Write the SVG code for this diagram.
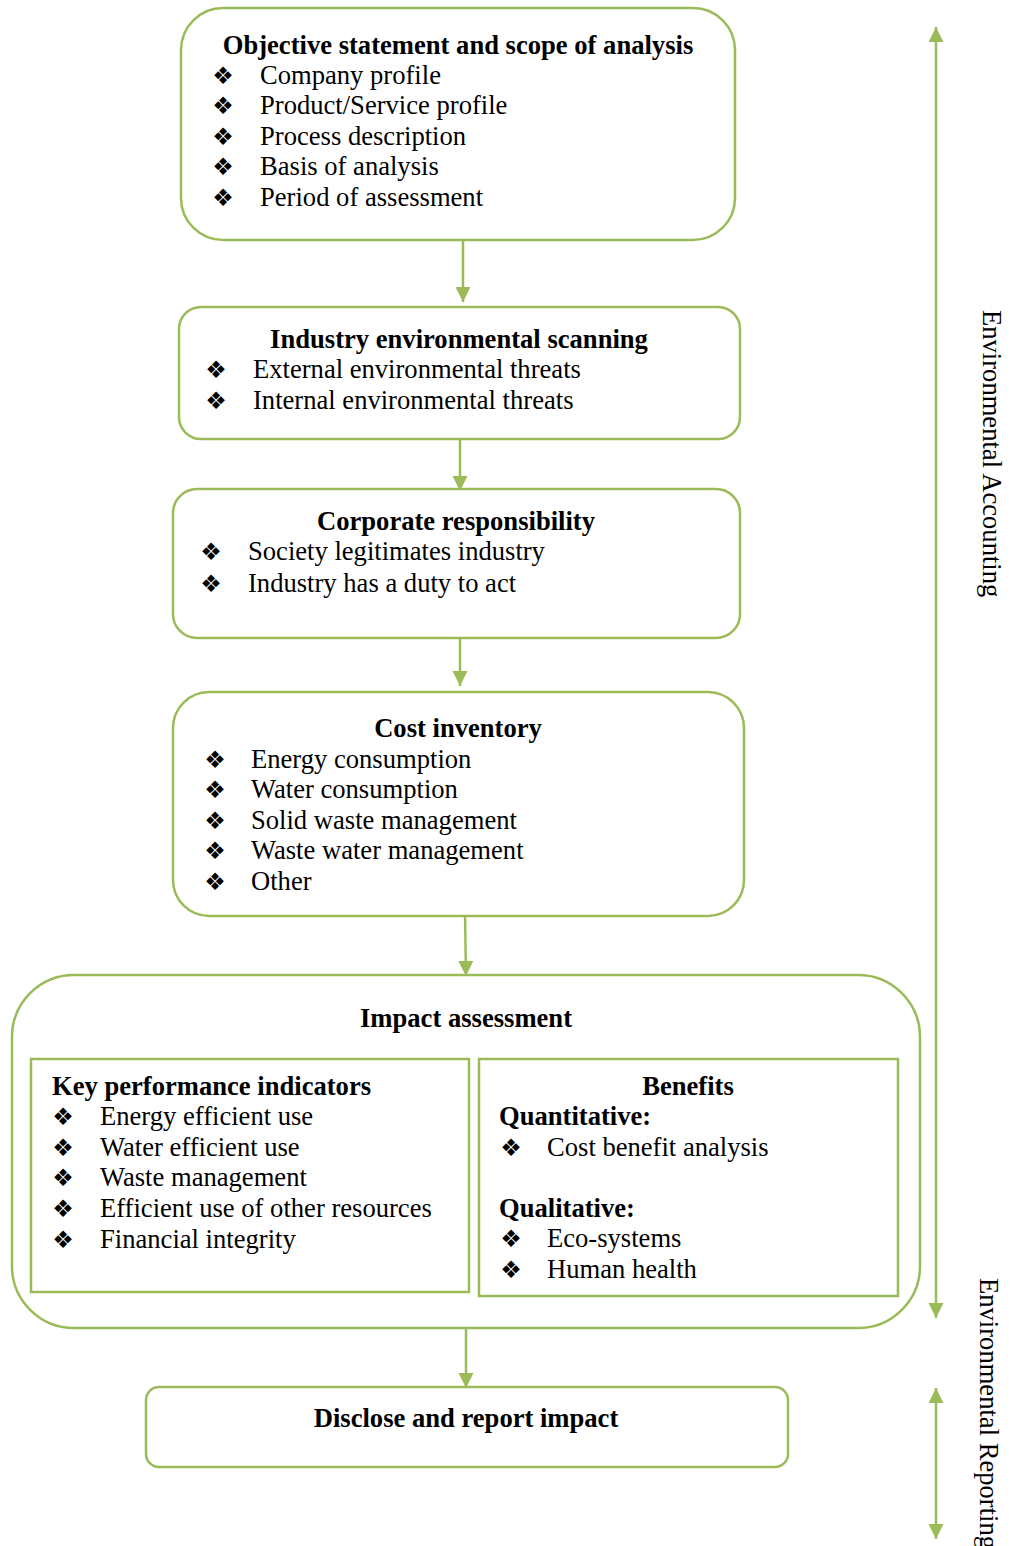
<svg xmlns="http://www.w3.org/2000/svg" width="1013" height="1546" viewBox="0 0 1013 1546">
<style>
.box{fill:#fff;stroke:#9BBB59;stroke-width:2.5}
.t{font-family:"Liberation Serif","Times New Roman",serif;font-size:26.6px;fill:#000}
.b{font-weight:bold}
.m{text-anchor:middle}
.bul{font-family:"DejaVu Sans",sans-serif;font-size:24px;fill:#000;text-anchor:middle}
.con{stroke:#9BBB59;stroke-width:2.5;fill:none}
</style>
<defs>
<marker id="ah" markerUnits="userSpaceOnUse" markerWidth="16" markerHeight="16" refX="15" refY="7.5" orient="auto-start-reverse" viewBox="0 0 16 16">
<path d="M0,0 L15,7.5 L0,15 z" fill="#9BBB59"/>
</marker>
</defs>
<rect width="1013" height="1546" fill="#fff"/>

<g id="connectors">
<line class="con" x1="463" y1="240" x2="463" y2="302" marker-end="url(#ah)"/>
<line class="con" x1="460" y1="439" x2="460" y2="491" marker-end="url(#ah)"/>
<line class="con" x1="460" y1="638" x2="460" y2="686" marker-end="url(#ah)"/>
<line class="con" x1="465" y1="913" x2="466" y2="976" marker-end="url(#ah)"/>
<line class="con" x1="466" y1="1328" x2="466" y2="1388" marker-end="url(#ah)"/>
<line class="con" x1="936" y1="27" x2="936" y2="1318" marker-start="url(#ah)" marker-end="url(#ah)"/>
<line class="con" x1="936" y1="1388" x2="936" y2="1539" marker-start="url(#ah)" marker-end="url(#ah)"/>
</g>

<g id="objective">
<rect class="box" x="181" y="8" width="554" height="232" rx="42"/>
<text class="t b m" x="458" y="54">Objective statement and scope of analysis</text>
<text class="bul" x="223" y="84">❖</text><text class="t" x="260" y="84">Company profile</text>
<text class="bul" x="223" y="114">❖</text><text class="t" x="260" y="114">Product/Service profile</text>
<text class="bul" x="223" y="145">❖</text><text class="t" x="260" y="145">Process description</text>
<text class="bul" x="223" y="175">❖</text><text class="t" x="260" y="175">Basis of analysis</text>
<text class="bul" x="223" y="206">❖</text><text class="t" x="260" y="206">Period of assessment</text>
</g>

<g id="scanning">
<rect class="box" x="179" y="307" width="561" height="132" rx="22"/>
<text class="t b m" x="459" y="348">Industry environmental scanning</text>
<text class="bul" x="216" y="378">❖</text><text class="t" x="253" y="378">External environmental threats</text>
<text class="bul" x="216" y="409">❖</text><text class="t" x="253" y="409">Internal environmental threats</text>
</g>

<g id="corporate">
<rect class="box" x="173" y="489" width="567" height="149" rx="24"/>
<text class="t b m" x="456" y="530">Corporate responsibility</text>
<text class="bul" x="211" y="560">❖</text><text class="t" x="248" y="560">Society legitimates industry</text>
<text class="bul" x="211" y="592">❖</text><text class="t" x="248" y="592">Industry has a duty to act</text>
</g>

<g id="cost">
<rect class="box" x="173" y="692" width="571" height="224" rx="36"/>
<text class="t b m" x="458" y="737">Cost inventory</text>
<text class="bul" x="215" y="768">❖</text><text class="t" x="251" y="768">Energy consumption</text>
<text class="bul" x="215" y="798">❖</text><text class="t" x="251" y="798">Water consumption</text>
<text class="bul" x="215" y="829">❖</text><text class="t" x="251" y="829">Solid waste management</text>
<text class="bul" x="215" y="859">❖</text><text class="t" x="251" y="859">Waste water management</text>
<text class="bul" x="215" y="890">❖</text><text class="t" x="251" y="890">Other</text>
</g>

<g id="impact">
<rect class="box" x="12" y="975" width="908" height="353" rx="62"/>
<text class="t b m" x="466" y="1027">Impact assessment</text>
</g>

<g id="kpi">
<rect class="box" x="31" y="1059" width="438" height="233"/>
<text class="t b" x="52" y="1095">Key performance indicators</text>
<text class="bul" x="63" y="1125">❖</text><text class="t" x="100" y="1125">Energy efficient use</text>
<text class="bul" x="63" y="1156">❖</text><text class="t" x="100" y="1156">Water efficient use</text>
<text class="bul" x="63" y="1186">❖</text><text class="t" x="100" y="1186">Waste management</text>
<text class="bul" x="63" y="1217">❖</text><text class="t" x="100" y="1217">Efficient use of other resources</text>
<text class="bul" x="63" y="1248">❖</text><text class="t" x="100" y="1248">Financial integrity</text>
</g>

<g id="benefits">
<rect class="box" x="479" y="1059" width="419" height="237"/>
<text class="t b m" x="688" y="1095">Benefits</text>
<text class="t b" x="499" y="1125">Quantitative:</text>
<text class="bul" x="511" y="1156">❖</text><text class="t" x="547" y="1156">Cost benefit analysis</text>
<text class="t b" x="499" y="1217">Qualitative:</text>
<text class="bul" x="511" y="1247">❖</text><text class="t" x="547" y="1247">Eco-systems</text>
<text class="bul" x="511" y="1278">❖</text><text class="t" x="547" y="1278">Human health</text>
</g>

<g id="disclose">
<rect class="box" x="146" y="1387" width="642" height="80" rx="13"/>
<text class="t b m" x="466" y="1427">Disclose and report impact</text>
</g>

<g id="side-labels">
<text class="t" transform="translate(983,310) rotate(90)">Environmental Accounting</text>
<text class="t" transform="translate(980,1278) rotate(90)">Environmental Reporting</text>
</g>
</svg>
